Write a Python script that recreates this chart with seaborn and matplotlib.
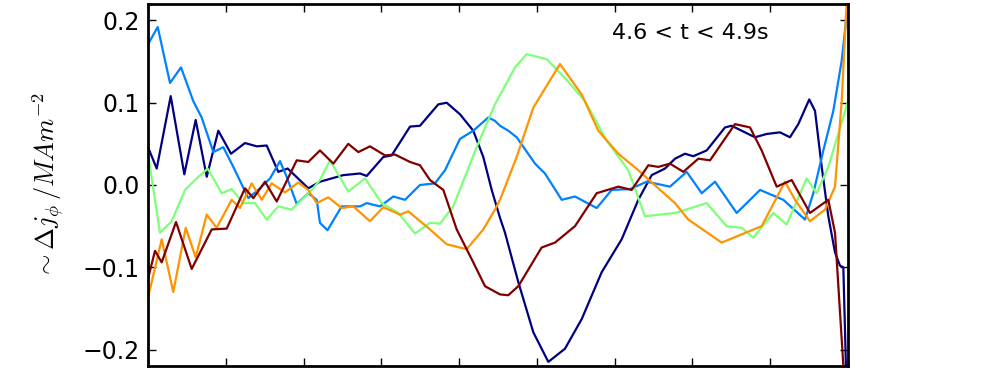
import numpy as np
import pandas as pd
import matplotlib
matplotlib.use("Agg")
import matplotlib.pyplot as plt
import seaborn as sns

# ---- data ----
navy_x = [0.00, 0.112, 0.292, 0.467, 0.613, 0.755, 0.904, 1.067, 1.247, 1.398, 1.526, 1.675, 1.796, 2.061,
          2.211, 2.511, 2.726, 2.812, 3.025, 3.133, 3.369, 3.497, 3.732, 3.840, 4.011, 4.182, 4.311, 4.419,
          4.526, 4.590, 4.761, 4.954, 5.147, 5.361, 5.576, 5.833, 6.090, 6.304, 6.476, 6.647, 6.776, 6.904,
          7.011, 7.183, 7.419, 7.504, 7.804, 7.954, 8.126, 8.254, 8.361, 8.502, 8.576, 8.662, 8.747, 8.833,
          8.897, 8.940, 8.974, 9.0]
navy_y = [0.046, 0.020, 0.108, 0.013, 0.079, 0.010, 0.066, 0.038, 0.051, 0.047, 0.048, 0.016, 0.020, -0.004,
          0.004, 0.012, 0.014, 0.011, 0.034, 0.036, 0.071, 0.072, 0.098, 0.100, 0.086, 0.066, 0.034, -0.006,
          -0.040, -0.058, -0.118, -0.179, -0.215, -0.199, -0.163, -0.106, -0.066, -0.018, 0.012, 0.020, 0.032, 0.038,
          0.035, 0.042, 0.070, 0.072, 0.058, 0.062, 0.064, 0.058, 0.074, 0.104, 0.090, 0.022, -0.038, -0.082,
          -0.098, -0.100, -0.222, -0.300]

blue_x = [0.00, 0.125, 0.283, 0.424, 0.582, 0.690, 0.840, 0.968, 1.097, 1.290, 1.440, 1.569, 1.697, 1.783,
          1.912, 2.061, 2.169, 2.211, 2.308, 2.490, 2.726, 2.812, 2.983, 3.154, 3.304, 3.497, 3.690, 3.819,
          4.011, 4.182, 4.375, 4.461, 4.526, 4.632, 4.740, 4.976, 5.104, 5.319, 5.490, 5.769, 5.962, 6.197,
          6.412, 6.711, 6.926, 7.119, 7.290, 7.569, 7.869, 8.168, 8.447, 8.554, 8.683, 8.811, 8.919, 8.974, 9.0]
blue_y = [0.171, 0.192, 0.124, 0.143, 0.102, 0.082, 0.040, 0.046, 0.022, -0.016, -0.004, 0.008, 0.029, 0.010,
          -0.023, -0.010, -0.018, -0.046, -0.055, -0.026, -0.026, -0.022, -0.026, -0.014, -0.018, 0.000, 0.002, 0.018,
          0.056, 0.066, 0.082, 0.078, 0.072, 0.066, 0.058, 0.026, 0.014, -0.018, -0.014, -0.028, -0.006, -0.005,
          0.004, -0.002, 0.016, -0.010, 0.004, -0.034, -0.006, -0.018, -0.042, -0.010, 0.042, 0.090, 0.151, 0.199, 0.211]

green_x = [0.00, 0.154, 0.305, 0.476, 0.604, 0.768, 0.948, 1.076, 1.225, 1.376, 1.526, 1.675, 1.847, 2.105,
           2.211, 2.340, 2.575, 2.790, 3.005, 3.218, 3.433, 3.626, 3.754, 3.925, 4.226, 4.461, 4.719, 4.869,
           5.126, 5.361, 5.619, 5.897, 6.175, 6.390, 6.776, 7.183, 7.440, 7.633, 7.782, 8.039, 8.211, 8.469,
           8.597, 8.747, 8.900, 9.0]
green_y = [0.038, -0.058, -0.044, -0.006, 0.006, 0.020, -0.010, -0.005, -0.022, -0.022, -0.042, -0.026, -0.030, -0.006,
           0.006, 0.030, -0.008, 0.008, -0.022, -0.034, -0.059, -0.046, -0.047, -0.026, 0.046, 0.098, 0.143, 0.159,
           0.153, 0.130, 0.102, 0.054, 0.018, -0.038, -0.034, -0.022, -0.050, -0.052, -0.064, -0.034, -0.048, 0.008,
           -0.010, 0.022, 0.070, 0.102]

orange_x = [0.00, 0.176, 0.325, 0.485, 0.613, 0.755, 0.883, 1.076, 1.183, 1.333, 1.462, 1.590, 1.761, 1.932,
            2.061, 2.169, 2.318, 2.490, 2.640, 2.854, 3.025, 3.240, 3.347, 3.626, 3.840, 4.097, 4.311, 4.461,
            4.526, 4.740, 4.954, 5.083, 5.297, 5.576, 5.790, 6.047, 6.304, 6.561, 6.776, 6.947, 7.376, 7.633,
            7.890, 8.190, 8.319, 8.511, 8.704, 8.833, 8.919, 8.983, 9.0]
orange_y = [-0.137, -0.066, -0.130, -0.052, -0.088, -0.036, -0.052, -0.018, -0.028, 0.002, -0.018, 0.002, -0.009, 0.003,
            -0.006, -0.022, -0.015, -0.028, -0.026, -0.044, -0.027, -0.036, -0.032, -0.054, -0.072, -0.078, -0.054, -0.030,
            -0.018, 0.034, 0.094, 0.114, 0.147, 0.110, 0.066, 0.038, 0.018, -0.004, -0.022, -0.042, -0.070, -0.060,
            -0.050, 0.004, -0.018, -0.044, -0.030, -0.002, 0.102, 0.223, 0.260]

maroon_x = [0.00, 0.090, 0.176, 0.360, 0.562, 0.819, 1.012, 1.247, 1.354, 1.504, 1.655, 1.912, 2.061, 2.211,
            2.383, 2.575, 2.704, 2.854, 3.047, 3.176, 3.369, 3.497, 3.626, 3.797, 3.969, 4.182, 4.333, 4.526,
            4.632, 4.761, 5.061, 5.233, 5.490, 5.769, 6.047, 6.219, 6.433, 6.561, 6.711, 6.883, 7.076, 7.226,
            7.547, 7.740, 7.890, 8.083, 8.276, 8.511, 8.747, 8.833, 8.940, 9.0]
maroon_y = [-0.114, -0.080, -0.094, -0.045, -0.102, -0.054, -0.053, -0.004, -0.016, 0.004, -0.020, 0.030, 0.028, 0.042,
            0.026, 0.050, 0.040, 0.047, 0.036, 0.037, 0.028, 0.024, 0.006, -0.006, -0.054, -0.094, -0.123, -0.133,
            -0.134, -0.123, -0.076, -0.070, -0.050, -0.010, -0.002, -0.006, 0.024, 0.022, 0.026, 0.016, 0.032, 0.030,
            0.074, 0.070, 0.042, -0.002, 0.006, -0.034, -0.018, -0.058, -0.219, -0.320]

series_names = ["s1", "s2", "s3", "s4", "s5"]
y_ticks = [-0.2, -0.1, 0.0, 0.1, 0.2]
annotation = "4.6 < t < 4.9s"
ylabel = r"$\sim\Delta j_\phi\,/MAm^{-2}$"

# ---- build long table ----
frames = []
for name, xs, ys in zip(series_names,
                        [navy_x, blue_x, green_x, orange_x, maroon_x],
                        [navy_y, blue_y, green_y, orange_y, maroon_y]):
    frames.append(pd.DataFrame({"x": xs, "y": ys, "series": name}))
df = pd.concat(frames, ignore_index=True)

sns.set_style("ticks")
plt.rcParams["font.family"] = ["DejaVu Sans"]
plt.rcParams["mathtext.fontset"] = "cm"
plt.rcParams["text.color"] = "black"
plt.rcParams["axes.labelcolor"] = "black"

colors = plt.get_cmap("jet")(np.linspace(0, 1, 5))
palette = {n: c for n, c in zip(series_names, colors)}

fig = plt.figure(figsize=(9.82, 3.69), dpi=100)
ax = fig.add_axes([148 / 982, 3 / 369, 700 / 982, 362 / 369])

sns.lineplot(data=df, x="x", y="y", hue="series", palette=palette, sort=False,
             estimator=None, linewidth=1.6, legend=False, ax=ax)

ax.set_xlim(0, 9)
ax.set_ylim(-0.22, 0.22)
ax.set_xticks(range(0, 10))
ax.set_xticklabels([])
ax.set_yticks(y_ticks)
ax.set_yticklabels([f"{v:.1f}".replace("-", "\u2212") for v in y_ticks])
ax.tick_params(direction="in", length=6, width=1, top=True, right=True,
               labelsize=17, colors="black")
ax.tick_params(axis="y", pad=6)
for s in ax.spines.values():
    s.set_linewidth(2)
    s.set_color("black")
ax.set_xlabel("")
ax.set_ylabel(ylabel, fontsize=19, color="black")
ax.yaxis.set_label_coords(-0.117, 0.5)
ax.text(0.663, 0.92, annotation, transform=ax.transAxes, fontsize=16,
        ha="left", va="center", color="black")

fig.savefig("out.png", dpi=100)
